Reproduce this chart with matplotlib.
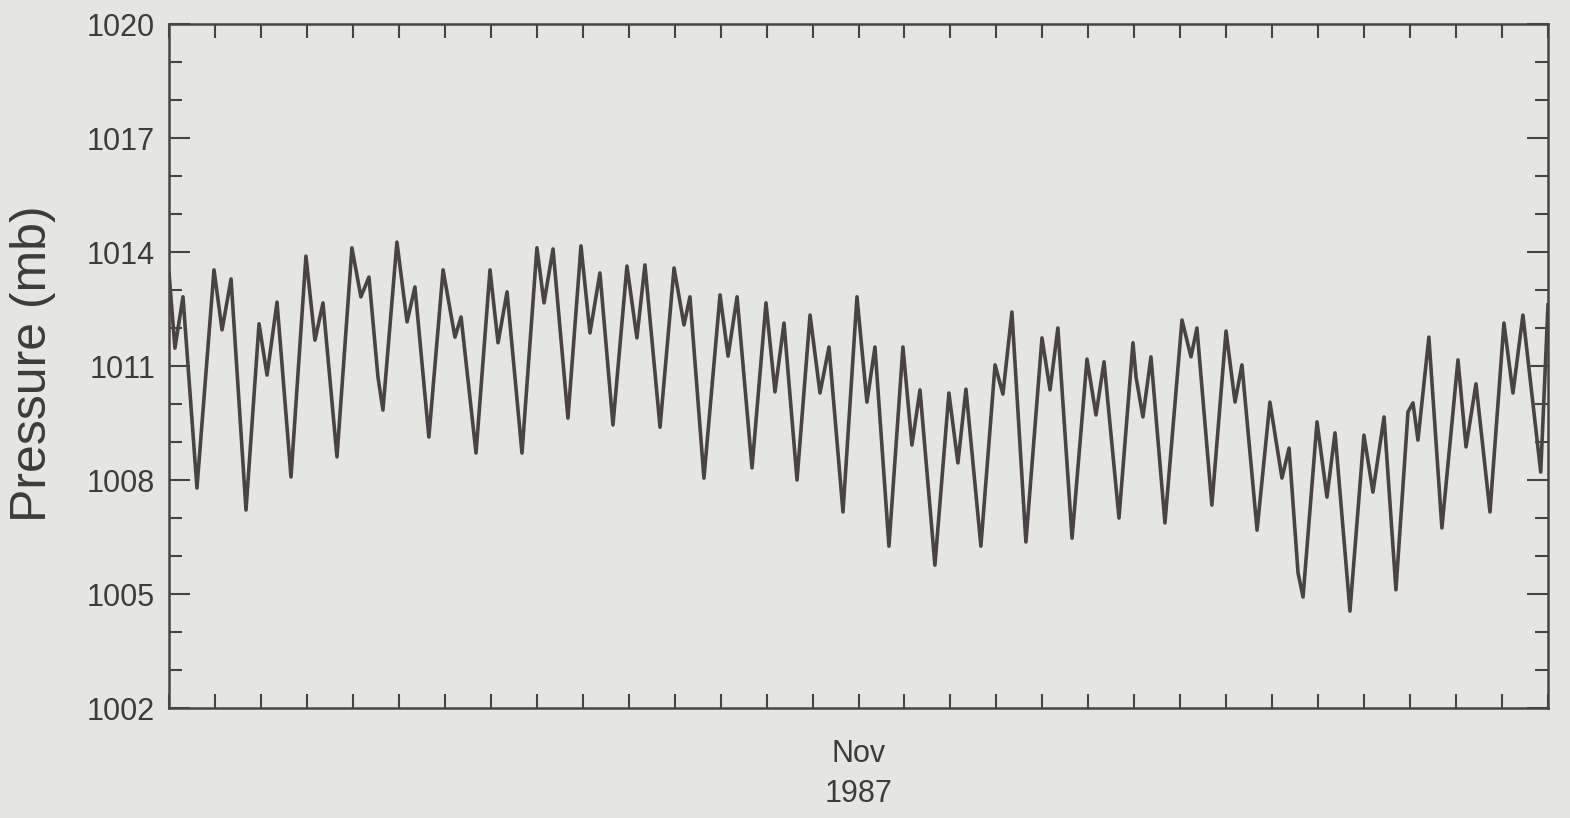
"""
Surface pressure record, Oct-Nov 1987
"""

from datetime import datetime

import numpy as np
import matplotlib
matplotlib.use("Agg")
import matplotlib.pyplot as plt
import matplotlib.dates as mdates
from matplotlib.ticker import MultipleLocator, FuncFormatter

START = np.datetime64("1987-10-17T00:00")

# Hours since 17 Oct 1987 00:00 (turning points of the trace)
HOURS = [0.0, 3.1, 7.3, 14.6, 23.5, 27.7, 32.4, 40.2, 47.0, 51.2,
         56.4, 63.7, 71.5, 76.2, 80.4, 87.7, 95.5, 100.2, 104.4, 109.1,
         111.7, 119.0, 124.3, 128.4, 135.7, 143.1, 149.3, 152.5, 160.3, 167.6,
         171.8, 176.5, 184.3, 192.1, 195.8, 200.5, 208.3, 215.1, 219.8, 225.0,
         231.8, 239.1, 244.3, 248.5, 256.4, 263.7, 268.9, 272.0, 279.3, 287.7,
         291.9, 296.6, 304.4, 311.7, 316.4, 321.1, 327.9, 334.7, 339.9, 344.6,
         351.9, 359.2, 364.4, 368.6, 375.9, 383.2, 387.9, 392.1, 399.9, 407.2,
         411.9, 416.1, 423.9, 431.3, 435.4, 440.1, 447.4, 455.8, 460.0, 464.1,
         471.5, 479.3, 484.0, 488.2, 496.0, 503.3, 504.9, 508.5, 512.7, 520.0,
         528.9, 533.6, 536.7, 544.5, 551.9, 556.6, 560.2, 568.1, 574.8, 581.1,
         584.8, 589.5, 592.1, 599.4, 604.6, 608.8, 616.6, 623.9, 628.6, 634.4,
         640.6, 646.9, 649.5, 652.1, 657.8, 664.6, 673.0, 677.2, 682.4, 689.7,
         697.0, 701.7, 706.9, 716.2, 720.0]

# Pressure (mb)
PRESSURE = [1013.45, 1011.47, 1012.82, 1007.79, 1013.53, 1011.95, 1013.29, 1007.21, 1012.11, 1010.76,
            1012.68, 1008.08, 1013.89, 1011.68, 1012.66, 1008.61, 1014.11, 1012.82, 1013.34, 1010.71,
            1009.84, 1014.26, 1012.16, 1013.08, 1009.13, 1013.53, 1011.76, 1012.29, 1008.71, 1013.53,
            1011.61, 1012.95, 1008.71, 1014.11, 1012.66, 1014.08, 1009.63, 1014.16, 1011.87, 1013.45,
            1009.45, 1013.63, 1011.74, 1013.66, 1009.39, 1013.58, 1012.08, 1012.82, 1008.05, 1012.87,
            1011.26, 1012.82, 1008.32, 1012.66, 1010.32, 1012.13, 1008.00, 1012.34, 1010.29, 1011.50,
            1007.16, 1012.82, 1010.05, 1011.50, 1006.26, 1011.50, 1008.92, 1010.37, 1005.76, 1010.29,
            1008.45, 1010.39, 1006.26, 1011.03, 1010.26, 1012.42, 1006.37, 1011.74, 1010.37, 1012.00,
            1006.47, 1011.18, 1009.71, 1011.11, 1007.00, 1011.61, 1010.71, 1009.66, 1011.24, 1006.87,
            1012.21, 1011.24, 1012.00, 1007.34, 1011.92, 1010.05, 1011.03, 1006.68, 1010.05, 1008.05,
            1008.84, 1005.55, 1004.92, 1009.53, 1007.55, 1009.24, 1004.55, 1009.18, 1007.68, 1009.66,
            1005.11, 1009.79, 1010.03, 1009.05, 1011.76, 1006.74, 1011.16, 1008.87, 1010.53, 1007.16,
            1012.13, 1010.29, 1012.34, 1008.21, 1012.61]

BG = "#e5e6e1"
INK = "#4a4345"
TEXT = "#3c3c3c"

plt.rcParams["font.family"] = ["Liberation Sans", "DejaVu Sans"]


def plot_pressure(hours, pressure):
    times = START + (np.array(hours) * 60).astype("timedelta64[m]")

    fig = plt.figure(figsize=(15.7, 8.18), dpi=100, facecolor=BG)
    ax = fig.add_axes([169 / 1570, 1 - 708 / 818, 1379 / 1570, 684 / 818])
    ax.set_facecolor(BG)

    ax.plot(times, pressure, color=INK, lw=2.6, solid_joinstyle="round")

    ax.set_xlim(datetime(1987, 10, 17), datetime(1987, 11, 16))
    ax.set_ylim(1002, 1020)

    # one tick a day, only 1 Nov gets a label
    ax.xaxis.set_major_locator(mdates.DayLocator())
    ax.xaxis.set_major_formatter(FuncFormatter(
        lambda v, pos: "Nov\n1987" if mdates.num2date(v).strftime("%m%d") == "1101" else ""))
    ax.yaxis.set_major_locator(MultipleLocator(3))
    ax.yaxis.set_minor_locator(MultipleLocator(1))

    for s in ax.spines.values():
        s.set_color(INK)
        s.set_linewidth(1.8)

    ax.tick_params(axis="x", which="major", direction="in", top=True, length=10,
                   width=1.5, color=INK, labelsize=22, labelcolor=TEXT, pad=22)
    ax.tick_params(axis="y", which="major", direction="in", right=True, length=15,
                   width=1.5, color=INK, labelsize=22, labelcolor=TEXT, pad=10)
    ax.tick_params(axis="y", which="minor", direction="in", right=True, length=9.5,
                   width=1.5, color=INK)
    for lab in ax.get_xticklabels():
        lab.set_linespacing(1.45)

    fig.text(33 / 1570, 1 - 364 / 818, "Pressure (mb)", rotation=90,
             ha="center", va="center", fontsize=36, color=TEXT)

    fig.savefig("out.png", dpi=100, facecolor=BG)


plot_pressure(HOURS, PRESSURE)
